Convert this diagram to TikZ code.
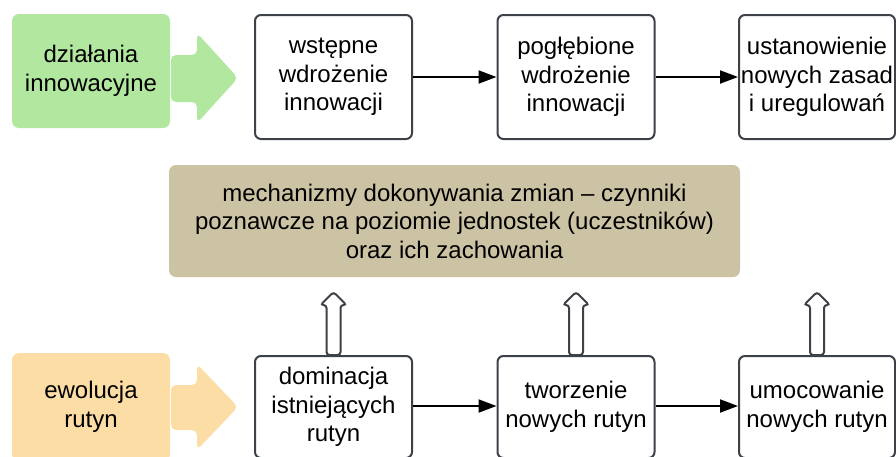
\documentclass[tikz,border=0pt]{standalone}
\usepackage{fontspec}
\setmainfont{Liberation Sans}
\usetikzlibrary{arrows.meta}
\definecolor{edge}{HTML}{3D4148}
\definecolor{leafgreen}{HTML}{B2E7A0}
\definecolor{peach}{HTML}{FDDDA6}
\definecolor{khaki}{HTML}{CCC3A4}
\tikzset{
  stagebox/.style={draw=edge, line width=2pt, rounded corners=6pt, fill=white,
    align=center, inner sep=0pt, minimum width=157pt},
  labelbox/.style={rounded corners=7pt, align=center, inner sep=0pt,
    minimum width=158pt},
  flow/.style={line width=2pt, -{Triangle[length=18pt,width=13pt]}},
  bigarrow/.style={rounded corners=5pt},
  uparrow/.style={draw=edge, line width=2pt, fill=white, rounded corners=3pt},
}
\begin{document}
\begin{tikzpicture}[x=1pt, y=-1pt,
  every node/.append style={font=\fontsize{24}{28.5}\selectfont}]
\useasboundingbox (0,0) rectangle (896,456);
\clip (0,0) rectangle (896,456);

% side labels
\node[labelbox, fill=leafgreen, minimum height=114pt] (innov) at (91,71)
  {działania\\innowacyjne};
\node[labelbox, fill=peach, minimum height=108pt] (evol) at (91,407)
  {ewolucja\\rutyn};

% block arrows after the side labels
\fill[leafgreen, bigarrow] (171,55) -- (197,55) -- (197,33) -- (238,78)
  -- (197,123) -- (197,102) -- (171,102) -- cycle;
\fill[peach, bigarrow] (171,385) -- (197,385) -- (197,364) -- (238,407)
  -- (197,450) -- (197,430) -- (171,430) -- cycle;

% top row
\node[stagebox, minimum height=124pt] (t1) at (333.5,77) {wstępne\\wdrożenie\\innowacji};
\node[stagebox, minimum height=124pt] (t2) at (576,77) {pogłębione\\wdrożenie\\innowacji};
\node[stagebox, minimum height=124pt, minimum width=156pt] (t3) at (817,77)
  {ustanowienie\\nowych zasad\\i uregulowań};

% middle box
\node[fill=khaki, rounded corners=7pt, minimum width=571pt, minimum height=112pt,
  align=center, inner sep=0pt] (mech) at (454.5,221)
  {mechanizmy dokonywania zmian – czynniki\\poznawcze na poziomie jednostek (uczestników)\\oraz ich zachowania};

% bottom row
\node[stagebox, minimum height=102pt] (b1) at (333.5,407) {dominacja\\istniejących\\rutyn};
\node[stagebox, minimum height=102pt] (b2) at (576,407) {tworzenie\\nowych rutyn};
\node[stagebox, minimum height=102pt, minimum width=156pt] (b3) at (817,407)
  {umocowanie\\nowych rutyn};

% connectors
\draw[flow] (t1.east) -- (t2.west);
\draw[flow] (t2.east) -- (t3.west);
\draw[flow] ([yshift=1pt]b1.east) -- ([yshift=1pt]b2.west);
\draw[flow] ([yshift=1pt]b2.east) -- ([yshift=1pt]b3.west);

% hollow arrows from the bottom row up to the middle box
\foreach \b in {b1,b2,b3}{
  \draw[uparrow] ([xshift=-7pt]\b.north) -- ++(0,-50) -- ++(-6,0) -- ++(13,-13)
    -- ++(13,13) -- ++(-6,0) -- ++(0,50) -- cycle;
}
\end{tikzpicture}
\end{document}
